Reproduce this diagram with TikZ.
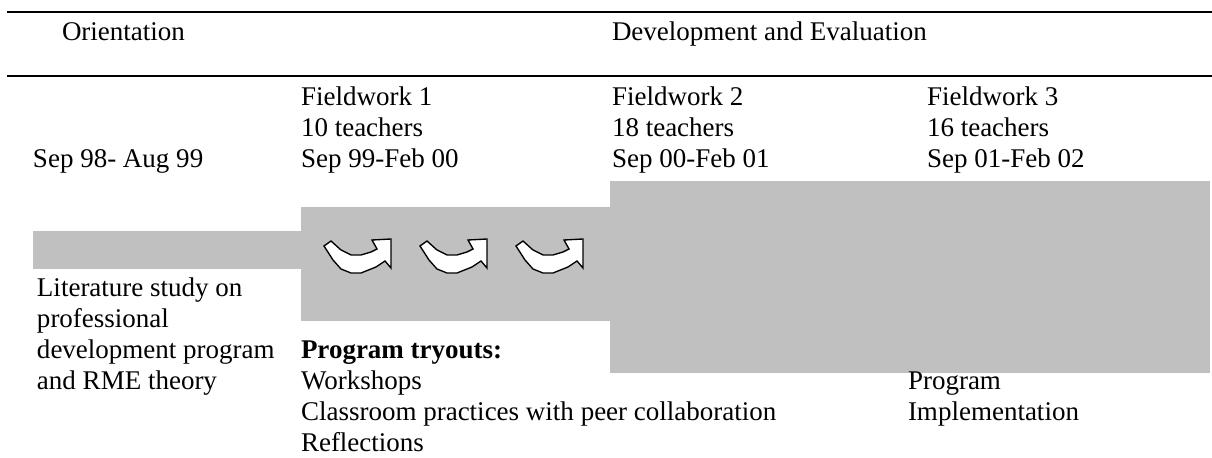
\documentclass[tikz,border=0pt]{standalone}
\usepackage{fontspec}
\setmainfont{Liberation Serif}
\definecolor{phasegray}{HTML}{C0C0C0}
\begin{document}
\begin{tikzpicture}[x=0.4444pt,y=-0.4444pt,
  txt/.style={inner sep=0pt,outer sep=0pt,anchor=base west,align=left,
    font=\fontsize{12pt}{13.8pt}\selectfont},
  rule/.style={line width=0.9pt},
  band/.style={fill=phasegray,draw=none},
  cyclearrow/.style={fill=white,draw=black,line width=0.6pt,line join=miter}]
\useasboundingbox (0,0) rectangle (1212,458);
% header rules
\coordinate (r1a) at (7,12);  \coordinate (r1b) at (1212,12);
\coordinate (r2a) at (7,76);  \coordinate (r2b) at (1212,76);
\draw[rule] (r1a) -- (r1b);
\draw[rule] (r2a) -- (r2b);
% gray phases
\fill[band] (33,231) rectangle (302,269);
\fill[band] (301,207) rectangle (611,321);
\fill[band] (610,181) rectangle (1210,373);
% cycle arrows
\foreach \dx in {0,96,192}{
  \draw[cyclearrow,xshift=\dx*0.4444pt]
    (324,246) -- (331,241) -- (341,250) -- (351,255) -- (361,255) -- (371,252)
    -- (377,249) -- (372,240) -- (391,239) -- (391,268) -- (385,261)
    -- (376,267) -- (361,273) -- (351,273) -- (341,269) -- (333,260) -- cycle;
}
% headings (anchor = baseline of the last line)
\node[txt] (orient) at (62,41) {Orientation};
\node[txt] (deveval) at (612,41) {Development and Evaluation};
% periods
\node[txt] (p0) at (33,168) {Sep 98- Aug 99};
\node[txt] (f1) at (301,168) {Fieldwork 1\\10 teachers\\Sep 99-Feb 00};
\node[txt] (f2) at (612,168) {Fieldwork 2\\18 teachers\\Sep 00-Feb 01};
\node[txt] (f3) at (927,168) {Fieldwork 3\\16 teachers\\Sep 01-Feb 02};
% descriptions
\node[txt] (lit) at (37,390) {Literature study on\\professional\\development program\\and RME theory};
\node[txt] (try) at (301,452) {\textbf{Program tryouts:}\\Workshops\\Classroom practices with peer collaboration\\Reflections};
\node[txt] (impl) at (908,421) {Program\\Implementation};
\end{tikzpicture}
\end{document}
